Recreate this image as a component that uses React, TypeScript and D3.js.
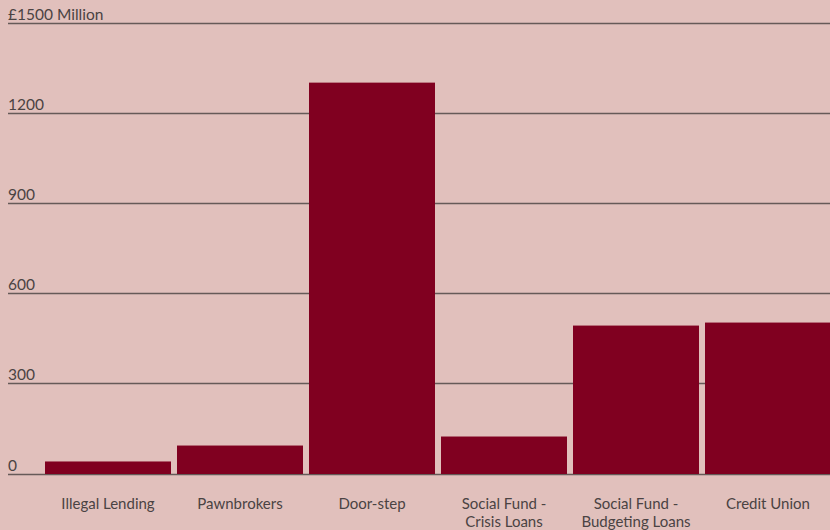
import React from "react";
import * as d3 from "d3";

const categories: string[][] = [
  ["Illegal Lending"],
  ["Pawnbrokers"],
  ["Door-step"],
  ["Social Fund -", "Crisis Loans"],
  ["Social Fund -", "Budgeting Loans"],
  ["Credit Union"],
];
const values: number[] = [40, 93, 1300, 123, 492, 502];
const ticks: number[] = [0, 300, 600, 900, 1200, 1500];
const tickLabels: string[] = ["0", "300", "600", "900", "1200", "£1500 Million"];

const W = 830;
const H = 530;
const BG = "#e1c0bc";
const BAR = "#800020";
const GRID = "#665a58";
const TEXT = "#4a4343";
const FONT = "Lato, 'Open Sans', sans-serif";

export default function App() {
  const keys = categories.map((c) => c.join(" "));
  const x = d3
    .scaleBand<string>()
    .domain(keys)
    .range([42, 834])
    .paddingInner(6 / 132)
    .paddingOuter(0.0227);
  const y = d3.scaleLinear().domain([0, 1500]).range([473.5, 22.5]);

  return (
    <svg
      width={W}
      height={H}
      style={{ position: "absolute", left: 0, top: 0, display: "block" }}
    >
      <rect x={0} y={0} width={W} height={H} fill={BG} />
      {ticks.map((t, i) => (
        <g key={t}>
          <line
            x1={8}
            x2={W}
            y1={Math.round(y(t)) + 0.5}
            y2={Math.round(y(t)) + 0.5}
            stroke={GRID}
            strokeWidth={1.3}
          />
          <text
            x={8}
            y={y(t) - 3}
            fontSize={15.5}
            fill={TEXT}
            fontFamily={FONT}
          >
            {tickLabels[i]}
          </text>
        </g>
      ))}
      {values.map((v, i) => (
        <rect
          key={keys[i]}
          x={x(keys[i])}
          y={y(v)}
          width={x.bandwidth()}
          height={y(0) - y(v) + 0.5}
          fill={BAR}
        />
      ))}
      {categories.map((lines, i) => (
        <text
          key={keys[i]}
          x={(x(keys[i]) as number) + x.bandwidth() / 2}
          y={509}
          textAnchor="middle"
          fontSize={15}
          fill={TEXT}
          fontFamily={FONT}
        >
          {lines.map((l, j) => (
            <tspan key={j} x={(x(keys[i]) as number) + x.bandwidth() / 2} dy={j === 0 ? 0 : 18}>
              {l}
            </tspan>
          ))}
        </text>
      ))}
    </svg>
  );
}
